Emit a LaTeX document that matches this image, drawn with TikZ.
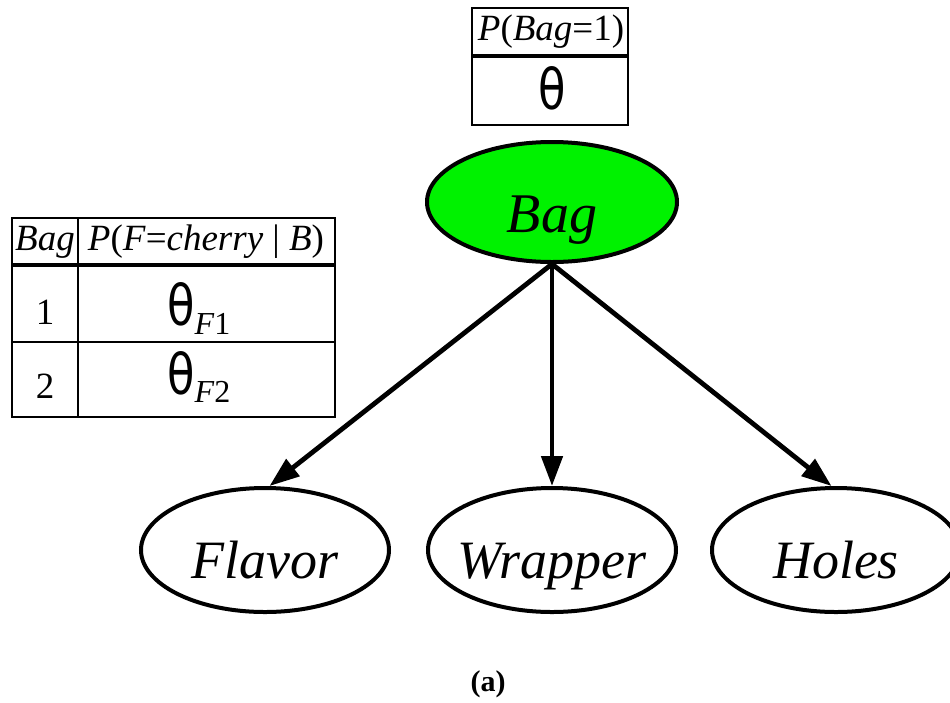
\documentclass[tikz,border=0pt]{standalone}
\usepackage{fontspec}
\setmainfont{LiberationSerif}[Extension=.ttf,UprightFont=*-Regular,ItalicFont=*-Italic,BoldFont=*-Bold,BoldItalicFont=*-BoldItalic]
\newfontfamily\thfont{DejaVu Sans}
\usetikzlibrary{arrows.meta,shapes.geometric}
\newcommand{\lbl}[2]{\makebox[0pt]{\raisebox{-#1}[0pt][0pt]{#2}}}
\newcommand{\thsym}{\scalebox{0.8}[1]{θ}}
\begin{document}
\begin{tikzpicture}[x=1pt,y=-1pt,
  var/.style={ellipse,draw,line width=4pt,minimum width=248pt,minimum height=124pt,inner sep=0pt,
    text height=0pt,text depth=0pt,
    font=\fontsize{54}{60}\selectfont\itshape},
  edge/.style={line width=4.8pt,-{Triangle[length=30pt,width=21pt]}},
  tbl/.style={line width=2.4pt},
  hdr/.style={line width=4.5pt},
  htext/.style={inner sep=0pt,font=\fontsize{37}{40}\selectfont},
  ctext/.style={inner sep=0pt,font=\fontsize{37}{40}\selectfont},
  theta/.style={inner sep=0pt,font=\fontsize{56}{60}\selectfont\thfont}]
\useasboundingbox (0,0) rectangle (950,702);

% top CPT
\draw[tbl] (472,8) rectangle (628,125);
\draw[hdr] (472,56) -- (628,56);
\node[htext] (pbag) at (551,32) {\textit{P}(\textit{Bag}=1)};
\node[theta] (th) at (552,88) {\thsym};

% left CPT
\draw[tbl] (12,218) rectangle (335,417);
\draw[tbl] (78,218) -- (78,417);
\draw[hdr] (12,265) -- (335,265);
\draw[tbl] (12,342) -- (335,342);
\node[htext] (hbag) at (45,242) {\textit{Bag}};
\node[htext] (hpf) at (206,242) {\textit{P}(\textit{F}=\textit{cherry} | \textit{B})};
\node[ctext] (r1) at (45,312) {1};
\node[ctext] (r2) at (45,386) {2};
\node[theta,anchor=west] (t1) at (167,309) {\thsym\raisebox{-9pt}{\fontsize{32}{34}\selectfont\rmfamily\textit{F}1}};
\node[theta,anchor=west] (t2) at (167,377) {\thsym\raisebox{-9pt}{\fontsize{32}{34}\selectfont\rmfamily\textit{F}2}};

% network
\node[var,fill={rgb,255:red,0;green,242;blue,0},minimum height=120pt,minimum width=250pt,font=\fontsize{56}{60}\selectfont\itshape] (Bag) at (552,202) {\lbl{30pt}{Bag}};
\node[var] (Flavor) at (265,550) {\lbl{28pt}{Flavor}};
\node[var] (Wrapper) at (552,550) {\lbl{28pt}{Wrapper}};
\node[var] (Holes) at (836,550) {\lbl{28pt}{Holes}};

\draw[edge] (Bag.south) -- (Flavor.86);
\draw[edge] (Bag.south) -- (Wrapper.north);
\draw[edge] (Bag.south) -- (Holes.94);

\node[inner sep=0pt,font=\fontsize{30}{32}\selectfont\bfseries] (cap) at (488,684) {(a)};
\end{tikzpicture}
\end{document}
